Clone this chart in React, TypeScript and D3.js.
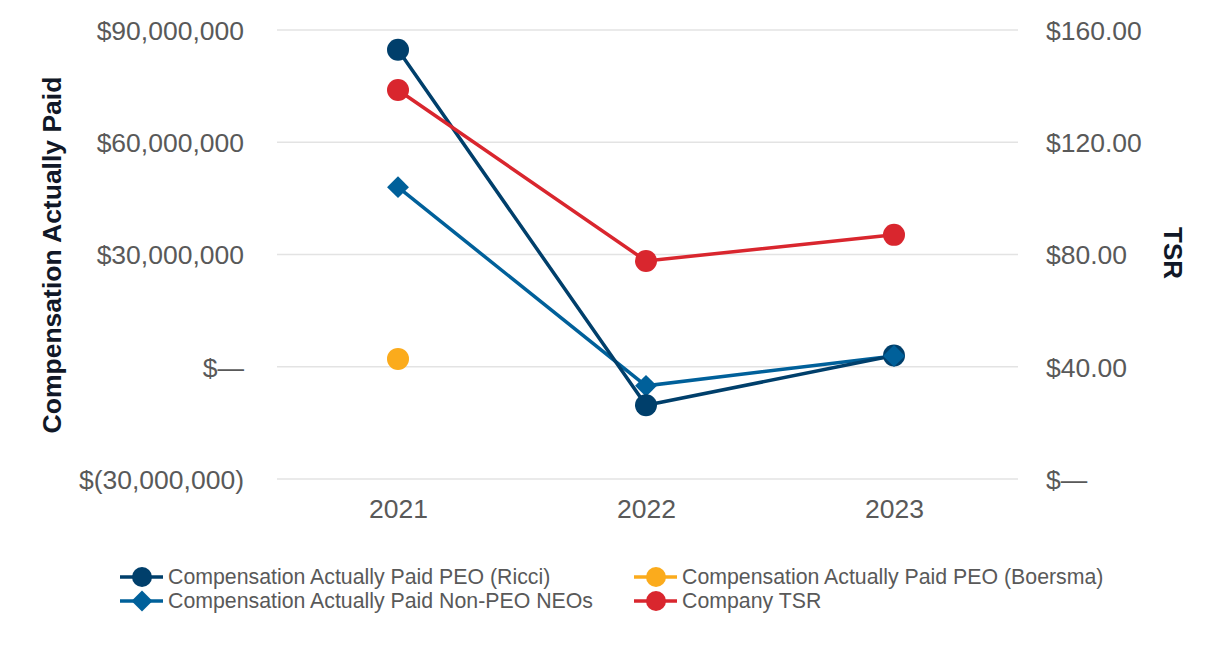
import React, { useRef, useEffect } from "react";
import * as d3 from "d3";

// values
const years = ["2021", "2022", "2023"];
const capRicci = [84.7e6, -10.3e6, 3.0e6];
const capBoersma: (number | null)[] = [2.1e6, null, null];
const capNonPeo = [48.0e6, -5.1e6, 2.9e6];
const companyTsr = [138.6, 77.7, 87.0];

const leftTicks = [-30e6, 0, 30e6, 60e6, 90e6];
const rightTicks = [0, 40, 80, 120, 160];

const C_RICCI = "#003f6b";
const C_NONPEO = "#00609a";
const C_BOERSMA = "#fbab1c";
const C_TSR = "#d9262e";

const FONT = "'Liberation Sans', Arial, sans-serif";

const fmtLeft = (v: number) => {
  if (v === 0) return "$\u2014";
  const s = d3.format(",")(Math.abs(v));
  return v < 0 ? `$(${s})` : `$${s}`;
};
const fmtRight = (v: number) => (v === 0 ? "$\u2014" : `$${v.toFixed(2)}`);

const App: React.FC = () => {
  const ref = useRef<SVGSVGElement | null>(null);

  useEffect(() => {
    const svg = d3.select(ref.current);
    svg.selectAll("*").remove();

    const x = d3.scalePoint<string>().domain(years).range([274, 1018]).padding(0.5);
    const yL = d3.scaleLinear().domain([-30e6, 90e6]).range([479, 30]);
    const yR = d3.scaleLinear().domain([0, 160]).range([479, 30]);

    // gridlines
    svg
      .append("g")
      .selectAll("line")
      .data(leftTicks)
      .join("line")
      .attr("x1", 277)
      .attr("x2", 1018)
      .attr("y1", d => yL(d))
      .attr("y2", d => yL(d))
      .attr("stroke", "#e3e3e3")
      .attr("stroke-width", 1.5);

    // left axis
    const gl = svg
      .append("g")
      .attr("transform", "translate(244,0)")
      .call(d3.axisLeft(yL).tickValues(leftTicks).tickFormat(d => fmtLeft(+d)).tickSize(0).tickPadding(0));
    gl.select(".domain").remove();
    gl.selectAll("text")
      .attr("font-family", FONT)
      .attr("font-size", 26.5)
      .attr("fill", "#595959")
      .attr("dy", "0.35em");

    // right axis
    const gr = svg
      .append("g")
      .attr("transform", "translate(1046,0)")
      .call(d3.axisRight(yR).tickValues(rightTicks).tickFormat(d => fmtRight(+d)).tickSize(0).tickPadding(0));
    gr.select(".domain").remove();
    gr.selectAll("text")
      .attr("font-family", FONT)
      .attr("font-size", 26.5)
      .attr("fill", "#595959")
      .attr("dy", "0.35em");

    // x axis
    const gx = svg
      .append("g")
      .attr("transform", "translate(0,479)")
      .call(d3.axisBottom(x).tickSize(0).tickPadding(23));
    gx.select(".domain").remove();
    gx.selectAll("text")
      .attr("font-family", FONT)
      .attr("font-size", 26.5)
      .attr("fill", "#595959")
      .attr("dy", "0.6em");

    // axis titles
    svg
      .append("text")
      .attr("transform", "translate(61,255) rotate(-90)")
      .attr("text-anchor", "middle")
      .attr("font-family", FONT)
      .attr("font-weight", "bold")
      .attr("font-size", 26.5)
      .attr("fill", "#111827")
      .text("Compensation Actually Paid");
    svg
      .append("text")
      .attr("transform", "translate(1164,253) rotate(90)")
      .attr("text-anchor", "middle")
      .attr("font-family", FONT)
      .attr("font-weight", "bold")
      .attr("font-size", 26)
      .attr("fill", "#111827")
      .text("TSR");

    const drawLine = (vals: (number | null)[], y: d3.ScaleLinear<number, number>, color: string) => {
      const pts = years.map((yr, i) => ({ yr, v: vals[i] })).filter(p => p.v !== null) as { yr: string; v: number }[];
      const line = d3
        .line<{ yr: string; v: number }>()
        .x(d => x(d.yr)!)
        .y(d => y(d.v));
      if (pts.length > 1) {
        svg
          .append("path")
          .datum(pts)
          .attr("d", line)
          .attr("fill", "none")
          .attr("stroke", color)
          .attr("stroke-width", 3.5);
      }
      return pts;
    };

    const circles = (pts: { yr: string; v: number }[], y: d3.ScaleLinear<number, number>, color: string) => {
      svg
        .append("g")
        .selectAll("circle")
        .data(pts)
        .join("circle")
        .attr("cx", d => x(d.yr)!)
        .attr("cy", d => y(d.v))
        .attr("r", 11)
        .attr("fill", color);
    };

    const diamond = d3.symbol().type(d3.symbolSquare).size(240);

    // Non-PEO
    const pN = drawLine(capNonPeo, yL, C_NONPEO);
    svg
      .append("g")
      .selectAll("path")
      .data(pN)
      .join("path")
      .attr("d", diamond)
      .attr("transform", d => `translate(${x(d.yr)},${yL(d.v)}) rotate(45)`)
      .attr("fill", C_NONPEO);

    // Ricci
    const pR = drawLine(capRicci, yL, C_RICCI);
    circles(pR, yL, C_RICCI);

    // Boersma
    const pB = drawLine(capBoersma, yL, C_BOERSMA);
    circles(pB, yL, C_BOERSMA);

    // TSR
    const pT = drawLine(companyTsr, yR, C_TSR);
    circles(pT, yR, C_TSR);

    // non-PEO 2023 diamond sits on top of the Ricci circle in the reference
    const last = pN[pN.length - 1];
    svg
      .append("path")
      .attr("d", diamond)
      .attr("transform", `translate(${x(last.yr)},${yL(last.v)}) rotate(45)`)
      .attr("fill", C_NONPEO);

    // legend
    const legend = [
      { label: "Compensation Actually Paid PEO (Ricci)", color: C_RICCI, shape: "circle", lx: 120, ly: 577 },
      { label: "Compensation Actually Paid PEO (Boersma)", color: C_BOERSMA, shape: "circle", lx: 634, ly: 577 },
      { label: "Compensation Actually Paid Non-PEO NEOs", color: C_NONPEO, shape: "diamond", lx: 120, ly: 601 },
      { label: "Company TSR", color: C_TSR, shape: "circle", lx: 634, ly: 601 },
    ];
    const lg = svg.append("g").selectAll("g").data(legend).join("g").attr("transform", d => `translate(${d.lx},${d.ly})`);
    lg.append("line").attr("x1", 0).attr("x2", 43).attr("stroke", d => d.color).attr("stroke-width", 3.5);
    lg.filter(d => d.shape === "circle").append("circle").attr("cx", 22).attr("r", 10).attr("fill", d => d.color);
    lg.filter(d => d.shape === "diamond")
      .append("path")
      .attr("d", d3.symbol().type(d3.symbolSquare).size(220))
      .attr("transform", "translate(22,0) rotate(45)")
      .attr("fill", d => d.color);
    lg.append("text")
      .attr("x", 48)
      .attr("dy", "0.35em")
      .attr("font-family", FONT)
      .attr("font-size", 21.3)
      .attr("fill", "#595959")
      .text(d => d.label);
  }, []);

  return <svg width={1226} height={650} ref={ref} style={{ display: "block", position: "absolute", left: 0, top: 0 }} />;
};

export default App;
